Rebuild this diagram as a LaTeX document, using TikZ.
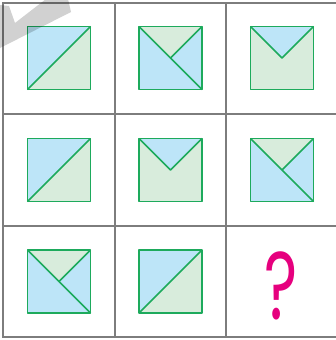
\documentclass[tikz,border=0pt]{standalone}
\usepackage{fontspec}
\usepackage{xcolor}
\usepackage{tikz}
\newfontfamily\qfont{Poppins}
\definecolor{gridgray}{HTML}{7D7D7D}
\definecolor{sqblue}{HTML}{BDE5F8}
\definecolor{sqgreen}{HTML}{D8ECDC}
\definecolor{sqedge}{HTML}{1DAA5C}
\definecolor{qpink}{HTML}{E6007E}

\begin{document}
\begin{tikzpicture}[
  x=1pt, y=-1pt,
  grid/.style={draw=gridgray, line width=2pt},
  edge/.style={draw=sqedge, line width=1.6pt, line join=round},
  qmark/.style={text=qpink, inner sep=0pt, xscale=0.66, font=\qfont\fontsize{96}{96}\selectfont},
  mark stamp/.style={fill=black, opacity=0.18},
  sqA/.pic={
    \fill[sqblue] (-31.5,-31.5) -- (31.5,-31.5) -- (-31.5,31.5) -- cycle;
    \fill[sqgreen] (31.5,-31.5) -- (31.5,31.5) -- (-31.5,31.5) -- cycle;
    \draw[edge] (-31.5,31.5) -- (31.5,-31.5);
    \draw[edge] (-31.5,-31.5) rectangle (31.5,31.5);
  },
  sqB/.pic={
    \fill[sqblue] (-31.5,-31.5) rectangle (31.5,31.5);
    \fill[sqgreen] (-31.5,-31.5) -- (31.5,-31.5) -- (0,0) -- cycle;
    \draw[edge] (-31.5,-31.5) -- (31.5,31.5);
    \draw[edge] (31.5,-31.5) -- (0,0);
    \draw[edge] (-31.5,-31.5) rectangle (31.5,31.5);
  },
  sqC/.pic={
    \fill[sqgreen] (-31.5,-31.5) rectangle (31.5,31.5);
    \fill[sqblue] (-31.5,-31.5) -- (31.5,-31.5) -- (0,0) -- cycle;
    \draw[edge] (-31.5,-31.5) -- (0,0) -- (31.5,-31.5);
    \draw[edge] (-31.5,-31.5) rectangle (31.5,31.5);
  },
]
\useasboundingbox (0,0) rectangle (335,340);
% grid
\draw[grid] (3,3) -- (336,3);
\draw[grid] (3,113.5) -- (336,113.5);
\draw[grid] (3,226) -- (336,226);
\draw[grid] (3,337) -- (336,337);
\draw[grid] (3,2) -- (3,338);
\draw[grid] (114.5,2) -- (114.5,338);
\draw[grid] (226,2) -- (226,338);
% row 1
\pic (r1a) at (59,58) {sqA};
\pic (r1b) at (170.5,58) {sqB};
\pic (r1c) at (282,58) {sqC};
% row 2
\pic (r2a) at (59,170) {sqA};
\pic (r2b) at (170.5,170) {sqC};
\pic (r2c) at (282,170) {sqB};
% row 3
\pic (r3a) at (59,281.5) {sqB};
\pic (r3b) at (170.5,281.5) {sqA};
\node[qmark, anchor=base] (qm) at (281,319) {?};
% stamp in the corner
\fill[mark stamp] (0,5) -- (9,6) -- (15,23) -- (46,-1) -- (68,-1) -- (71,12) -- (0,48) -- cycle;
\end{tikzpicture}
\end{document}
